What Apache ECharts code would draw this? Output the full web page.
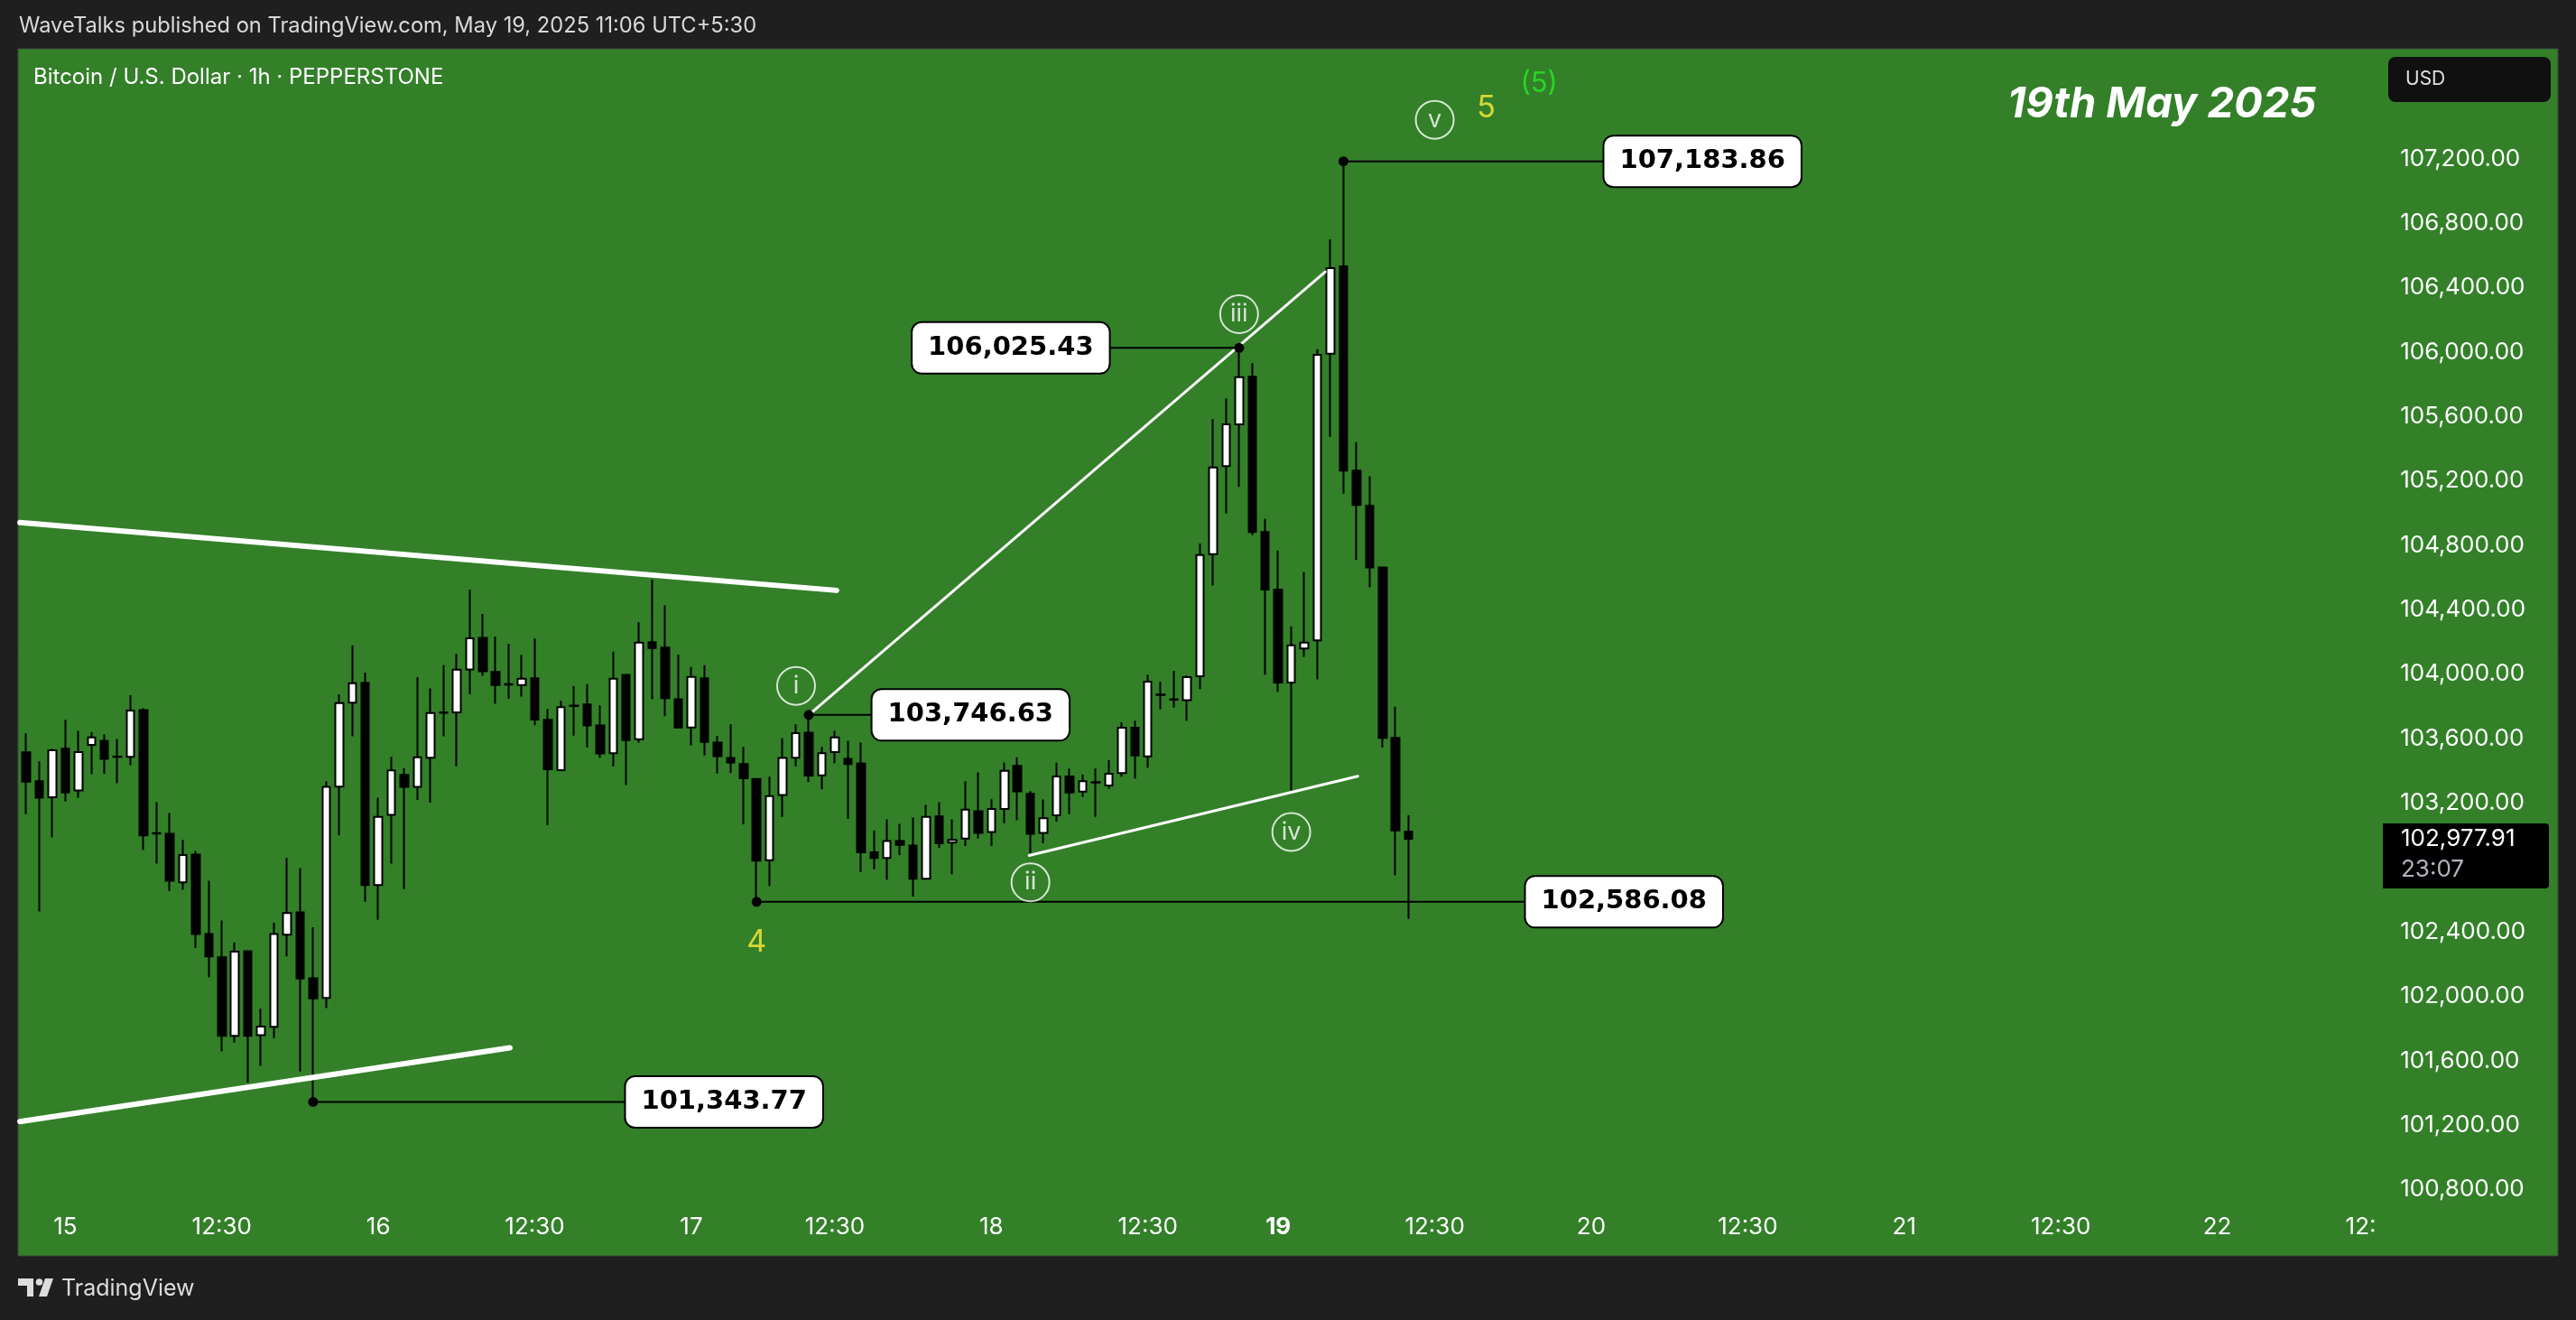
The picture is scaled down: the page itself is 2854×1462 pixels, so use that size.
<!DOCTYPE html>
<html><head><meta charset="utf-8">
<script src="https://cdn.jsdelivr.net/npm/echarts@6/dist/echarts.min.js"></script>
<style>html,body{margin:0;padding:0;background:#1f1f1f;overflow:hidden}#c{width:2854px;height:1462px}</style>
</head><body><div id="c"></div>
<script>
// ---- candle data (1h bars, BTCUSD Pepperstone) ----
const opens = [103514,103335,103235,103537,103277,103560,103586,103488,103486,103776,
103012,103009,102707,102879,102386,102242,101754,102280,101759,101810,
102382,102521,102112,101989,103302,103823,103946,102691,103126,103374,
103300,103481,103762,103762,104029,104225,104013,103937,103932,103974,
103716,103404,103804,103811,103681,103509,103995,103595,104199,104164,
103844,103669,103974,103574,103479,103442,103349,102844,103249,103481,
103637,103372,103516,103474,103446,102893,102858,102963,102935,102730,
103116,102954,102979,103149,103019,103163,103430,103256,103014,103123,
103365,103270,103330,103309,103386,103667,103489,103873,103844,103838,
103987,104745,105291,105551,105846,104882,104525,103947,104159,104210,
105989,106532,105263,105045,104662,103604,103023];
const closes = [103332,103232,103527,103265,103516,103607,103474,103486,103774,102998,
103010,102717,102877,102386,102247,101754,102277,101754,101812,102386,
102517,102110,101987,103300,103820,103943,102691,103114,103402,103300,
103483,103758,103760,104027,104222,104018,103932,103935,103971,103718,
103409,103795,103802,103681,103507,103971,103590,104195,104162,103851,
103669,103983,103579,103490,103451,103353,102842,103242,103479,103634,
103370,103509,103607,103442,102893,102858,102963,102940,102730,103114,
102949,102970,103158,103014,103163,103400,103272,103009,103105,103365,
103265,103335,103327,103381,103667,103495,103953,103870,103841,103981,
104739,105283,105551,105843,104882,104525,103947,104179,104196,105983,
106521,105263,105051,104662,103604,103029,102977.91];
const lows = [103130,102526,102986,103209,103232,103379,103381,103323,103435,102907,
102823,102654,102661,102301,102117,101657,101712,101464,101568,101740,
102247,101533,101343.77,101926,102998,103614,102586,102475,102823,102665,
103218,103202,103614,103428,103874,103990,103816,103846,103860,103683,
103063,103397,103618,103544,103479,103428,103311,103574,103844,103739,
103665,103558,103495,103383,103386,103067,102586.08,102684,103114,103428,
103330,103284,103446,103102,102772,102789,102723,102875,102619,102723,
102921,102758,102933,102979,102933,103074,103093,102888,102949,103084,
103130,103237,103114,103289,103363,103352,103418,103781,103792,103710,
103907,104550,104997,105162,104862,103996,103890,103278,104107,103967,
105474,105120,104708,104539,103544,102751,102480];
const highs = [103632,103458,103537,103716,103648,103641,103625,103597,103869,103788,
103205,103137,102970,102902,102717,102470,102335,102280,101922,102458,
102858,102795,102428,103335,103874,104178,104009,103232,103486,103416,
103981,103911,104055,104125,104525,104374,104234,104188,104120,104222,
103783,103834,103925,103937,103806,104139,103995,104322,104587,104427,
104120,104044,104055,103616,103688,103548,103349,103363,103602,103688,
103746.63,103548,103648,103586,103574,103030,103098,103070,103109,103188,
103205,103098,103335,103390,103223,103451,103483,103274,103221,103451,
103414,103377,103414,103466,103701,103710,103996,103953,104021,103993,
104811,105583,105712,106025.43,105932,104965,104768,104296,104633,106018,
106698,107183.86,105440,105228,104662,103798,103123];

// ---- axis ----
const slotCount = 181;                       // bar slots visible across the pane
const xTickIdx  = [3,15,27,39,51,62,74,86,96,108,120,132,144,156,168,179];
const xTickText = ['15','12:30','16','12:30','17','12:30','18','12:30','19','12:30','20','12:30','21','12:30','22','12:'];
const xTickBold = ['19'];
const priceTicks = [100800,101200,101600,102000,102400,103200,103600,104000,104400,104800,105200,105600,106000,106400,106800,107200];
const lastPrice = 102977.91;
const lastTimer = '23:07';

// ---- annotations ----
const levelValues = [101343.77, 103746.63, 106025.43, 107183.86, 102586.08];
const levelFrom   = [22, 60, 93, 101, 56];
const levelTo     = [45.95, 64.85, 83.05, 120.97, 114.95];
const levelSide   = ['right','right','left','right','right'];

const thickLines = [
  [[-0.48, 104941], [62.13, 104520]],
  [[-0.48, 101222], [37.09, 101680]]
];
const thinLines = [
  [[60, 103746.63], [99.6, 106498]],
  [[76.9, 102874], [102.1, 103366]]
];
const waveNames = ['i','ii','iii','iv','v'];
const waveX = [59.03, 77.0, 93.0, 97.0, 108.0];
const waveY = [103927, 102707, 106235, 103020, 107442];
const numNames  = ['4','5','(5)'];
const numX      = [56.0, 111.95, 116.0];
const numY      = [102335, 107513, 107668];
const numColors = ['#ffeb3b','#ffeb3b','#27e827'];
const numSizes  = [34, 34, 31];

const fmt = v => v.toLocaleString('en-US',{minimumFractionDigits:2, maximumFractionDigits:2});

const cats = [];
for (let i = 0; i < slotCount; i++) cats.push(String(i));
const candleData = opens.map((o,i)=>[o, closes[i], lows[i], highs[i]]);

const series = [{
  type:'candlestick', xAxisIndex:0, yAxisIndex:0, data:candleData, barWidth:9, z:3,
  itemStyle:{color:'#ffffff', color0:'#000000', borderColor:'#000000', borderColor0:'#000000', borderWidth:2}
}];
thickLines.forEach(l => series.push({type:'line', xAxisIndex:1, yAxisIndex:0, data:l, symbol:'none', silent:true, z:4,
  lineStyle:{color:'#ffffff', width:6, cap:'round'}}));
thinLines.forEach(l => series.push({type:'line', xAxisIndex:1, yAxisIndex:0, data:l, symbol:'none', silent:true, z:4,
  lineStyle:{color:'#ffffff', width:3, cap:'round'}}));
levelValues.forEach((v,k) => series.push({
  type:'line', xAxisIndex:1, yAxisIndex:0, silent:true, z:5,
  lineStyle:{color:'#000', width:2},
  data:[
    {value:[levelFrom[k], v], symbol:'circle', symbolSize:11, itemStyle:{color:'#000'}},
    {value:[levelTo[k], v], symbol:'circle', symbolSize:1, itemStyle:{color:'rgba(0,0,0,0)'},
     label:{show:true, position:levelSide[k], distance:0, formatter:fmt(v),
       backgroundColor:'#ffffff', borderColor:'#000', borderWidth:2, borderRadius:10, padding:[13,17],
       color:'#000', fontFamily:'DejaVu Sans', fontWeight:'bold', fontSize:29, lineHeight:29}}
  ]
}));
series.push({
  type:'scatter', xAxisIndex:1, yAxisIndex:0, silent:true, z:6, symbol:'circle', symbolSize:42,
  itemStyle:{color:'rgba(0,0,0,0)', borderColor:'#ffffff', borderWidth:2},
  label:{show:true, position:'inside', formatter:'{b}', color:'#ffffff', fontSize:27, fontFamily:'Inter'},
  data: waveNames.map((n,i)=>({name:n, value:[waveX[i], waveY[i]]}))
});
series.push({
  type:'scatter', xAxisIndex:1, yAxisIndex:0, silent:true, z:6, symbol:'circle', symbolSize:1,
  itemStyle:{color:'rgba(0,0,0,0)'},
  data: numNames.map((n,i)=>({name:n, value:[numX[i], numY[i]],
    label:{show:true, position:'inside', formatter:'{b}', color:numColors[i], fontSize:numSizes[i], fontFamily:'Inter'}}))
});

const chart = echarts.init(document.getElementById('c'), null, {renderer:'canvas'});
const option = {
  animation:false,
  backgroundColor:'#1f1f1f',
  grid:{left:21.8, right:216.8, top:33.1, bottom:73.2, containLabel:false},
  xAxis:[{
    type:'category', data:cats, boundaryGap:true, offset:-45,
    axisLine:{show:false}, axisTick:{show:false}, splitLine:{show:false},
    axisLabel:{interval:0, color:'#ffffff', fontSize:26, fontFamily:'Inter', margin:2,
      formatter:(v,i)=>{ const k = xTickIdx.indexOf(Number(v)); if (k<0) return '';
        const t = xTickText[k]; return xTickBold.includes(t) ? '{b|'+t+'}' : t; },
      rich:{b:{fontWeight:'bold', color:'#ffffff', fontSize:26, fontFamily:'Inter'}}}
  },{
    type:'value', min:-0.5, max:slotCount-0.5, show:false
  }],
  yAxis:[{
    type:'value', position:'right', min:100400, max:108000, interval:400,
    splitLine:{show:false}, axisLine:{show:false}, axisTick:{show:false},
    axisLabel:{color:'#ffffff', fontSize:26, fontFamily:'Inter', margin:22,
      formatter:v => priceTicks.includes(v) ? fmt(v) : ''}
  }],
  graphic:{elements:[
    {id:'panel', type:'rect', z:-10, shape:{x:20, y:54, width:2814, height:1337}, style:{fill:'#338029', stroke:'#3d4a3c', lineWidth:1}},
    {id:'pub', type:'text', z:10, style:{text:'WaveTalks published on TradingView.com, May 19, 2025 11:06 UTC+5:30', x:21, y:29, fill:'#d9d9d9', font:'23.7px Inter', textVerticalAlign:'middle'}},
    {id:'sym', type:'text', z:10, style:{text:'Bitcoin / U.S. Dollar \u00b7 1h \u00b7 PEPPERSTONE', x:37, y:86, fill:'#ffffff', font:'24px Inter', textVerticalAlign:'middle'}},
    {id:'date', type:'text', z:10, style:{text:'19th May 2025', x:2224, y:116, fill:'#ffffff', font:'italic bold 47px Inter', textVerticalAlign:'middle'}},
    {id:'usdbox', type:'rect', z:10, shape:{x:2646, y:63, width:180, height:50, r:8}, style:{fill:'#101010'}},
    {id:'usd', type:'text', z:11, style:{text:'USD', x:2665, y:88, fill:'#e0e0e0', font:'21px Inter', textVerticalAlign:'middle'}},
    {id:'logoT', type:'polygon', z:10, shape:{points:[[20,1416],[37,1416],[37,1436],[30,1436],[30,1424],[20,1424]]}, style:{fill:'#dcdcdc'}},
    {id:'logoDot', type:'circle', z:10, shape:{cx:43.5, cy:1420, r:3.8}, style:{fill:'#dcdcdc'}},
    {id:'logoV', type:'polygon', z:10, shape:{points:[[50,1416],[59,1416],[52,1436],[43,1436]]}, style:{fill:'#dcdcdc'}},
    {id:'tvtext', type:'text', z:10, style:{text:'TradingView', x:68, y:1427, fill:'#dcdcdc', font:'25px Inter', textVerticalAlign:'middle'}}
  ]},
  series:series
};
chart.setOption(option);
const py = chart.convertToPixel({yAxisIndex:0}, lastPrice);
chart.setOption({graphic:{elements:[
  {id:'pbox', type:'rect', z:20, shape:{x:2640, y:py-17, width:184, height:72, r:[0,4,4,0]}, style:{fill:'#000000'}},
  {id:'ptxt', type:'text', z:21, style:{text:fmt(lastPrice), x:2660, y:py, fill:'#ffffff', font:'26px Inter', textVerticalAlign:'middle'}},
  {id:'ttxt', type:'text', z:21, style:{text:lastTimer, x:2660, y:py+34, fill:'#b2b5be', font:'26px Inter', textVerticalAlign:'middle'}}
]}});
</script></body></html>
